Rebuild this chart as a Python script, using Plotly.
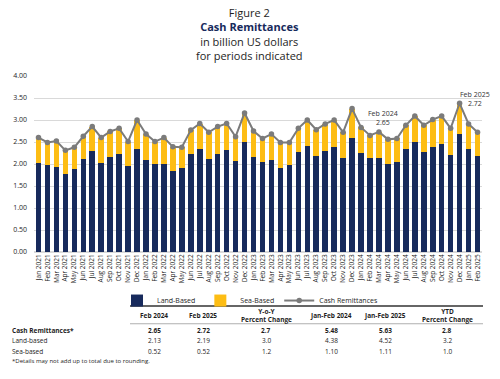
import plotly.graph_objects as go

months = ["Jan 2021","Feb 2021","Mar 2021","Apr 2021","May 2021","Jun 2021","Jul 2021","Aug 2021","Sep 2021","Oct 2021","Nov 2021","Dec 2021",
          "Jan 2022","Feb 2022","Mar 2022","Apr 2022","May 2022","Jun 2022","Jul 2022","Aug 2022","Sep 2022","Oct 2022","Nov 2022","Dec 2022",
          "Jan 2023","Feb 2023","Mar 2023","Apr 2023","May 2023","Jun 2023","Jul 2023","Aug 2023","Sep 2023","Oct 2023","Nov 2023","Dec 2023",
          "Jan 2024","Feb 2024","Mar 2024","Apr 2024","May 2024","Jun 2024","Jul 2024","Aug 2024","Sep 2024","Oct 2024","Nov 2024","Dec 2024",
          "Jan 2025","Feb 2025"]

total = [2.60,2.49,2.52,2.31,2.38,2.63,2.85,2.60,2.74,2.81,2.51,3.00,
         2.68,2.51,2.60,2.39,2.38,2.77,2.92,2.72,2.85,2.92,2.62,3.16,
         2.75,2.58,2.68,2.49,2.49,2.81,3.00,2.78,2.91,3.00,2.72,3.26,
         2.83,2.65,2.73,2.56,2.58,2.88,3.09,2.88,3.01,3.09,2.81,3.38,
         2.91,2.72]

land = [2.03,1.97,1.93,1.77,1.89,2.12,2.29,2.02,2.15,2.23,1.96,2.35,
        2.08,1.99,2.00,1.84,1.91,2.22,2.35,2.11,2.23,2.32,2.07,2.51,
        2.17,2.04,2.09,1.92,1.97,2.27,2.42,2.18,2.30,2.38,2.13,2.60,
        2.25,2.13,2.14,1.99,2.05,2.33,2.51,2.27,2.38,2.46,2.21,2.69,
        2.33,2.19]

sea = [round(t - l, 2) for t, l in zip(total, land)]

table_cols = ["Feb 2024", "Feb 2025", "Y-o-Y<br>Percent Change", "Jan-Feb 2024", "Jan-Feb 2025", "YTD<br>Percent Change"]
table_rows = ["Cash Remittances*", "Land-based", "Sea-based"]
table_vals = [["2.65", "2.72", "2.7", "5.48", "5.63", "2.8"],
              ["2.13", "2.19", "3.0", "4.38", "4.52", "3.2"],
              ["0.52", "0.52", "1.2", "1.10", "1.11", "1.0"]]

NAVY = "#172a5c"
GOLD = "#fdbd14"
LINE = "#7b7b7b"
TXT = "#1e1e1e"
FONT = "Open Sans"

# plot area in pixels
PL, PR, PT, PB = 34, 482, 75.7, 252.3
def px(x):
    return (x - PL) / (PR - PL)
def py(y):
    return (PB - y) / (PB - PT)

fig = go.Figure()
fig.add_trace(go.Bar(x=months, y=land, name="Land-Based", marker_color=NAVY, marker_line_width=0))
fig.add_trace(go.Bar(x=months, y=sea, name="Sea-Based", marker_color=GOLD, marker_line_width=0))
fig.add_trace(go.Scatter(x=months, y=total, name="Cash Remittances", mode="lines+markers",
                         line=dict(color=LINE, width=2),
                         marker=dict(color=LINE, size=5.5, symbol="circle")))

ann = []
# title block (single multi-line annotation)
title_txt = ("Figure 2<br>"
             "<span style='color:" + NAVY + "'><b>Cash Remittances</b></span><br>"
             "in billion US dollars<br>for periods indicated")
ann.append(dict(x=px(249), y=py(34), text=title_txt, font=dict(size=11, color=TXT, family=FONT)))

# point labels
ann.append(dict(x=px(383), y=py(117.5), text="Feb 2024<br>2.65", font=dict(size=7, color="#333333", family=FONT)))
ann.append(dict(x=px(475), y=py(99), text="Feb 2025<br>2.72", font=dict(size=7, color="#333333", family=FONT)))

# table header
col_x = [154, 203, 266, 331, 385, 447]
for cx, c in zip(col_x, table_cols):
    ann.append(dict(x=px(cx), y=py(316.3), text="<b>" + c + "</b>", font=dict(size=6.5, color=TXT, family=FONT)))
row_y = [330.7, 341.5, 351.7]
for ry, rname, vals in zip(row_y, table_rows, table_vals):
    bold = rname.startswith("Cash")
    t = "<b>" + rname + "</b>" if bold else rname
    ann.append(dict(x=px(10), y=py(ry), text=t, xanchor="left", font=dict(size=6.5, color=TXT, family=FONT)))
    for cx, v in zip(col_x, vals):
        vt = "<b>" + v + "</b>" if bold else v
        ann.append(dict(x=px(cx), y=py(ry), text=vt, font=dict(size=6.5, color=TXT, family=FONT)))
ann.append(dict(x=px(10), y=py(362), text="*Details may not add up to total due to rounding.", xanchor="left",
                font=dict(size=6, color=TXT, family=FONT)))

for a in ann:
    a.setdefault("xref", "paper")
    a.setdefault("yref", "paper")
    a.setdefault("showarrow", False)
    a.setdefault("xanchor", "center")
    a.setdefault("yanchor", "middle")

shapes = [
    dict(type="line", xref="paper", yref="paper", x0=px(130), x1=px(483), y0=py(306.5), y1=py(306.5),
         line=dict(color="#666666", width=1.8)),
    dict(type="line", xref="paper", yref="paper", x0=px(130), x1=px(483), y0=py(324.3), y1=py(324.3),
         line=dict(color="#9a9a9a", width=0.8)),
]

fig.update_layout(
    width=500, height=379,
    margin=dict(l=PL, r=500 - PR, t=PT, b=379 - PB, pad=0, autoexpand=False),
    barmode="stack", bargap=0.38,
    paper_bgcolor="white", plot_bgcolor="white",
    font=dict(family=FONT, size=7, color=TXT),
    showlegend=True,
    legend=dict(orientation="h", x=px(250), xanchor="center", y=py(301), yanchor="middle",
                font=dict(size=7, color=TXT, family=FONT), traceorder="normal",
                itemwidth=30, tracegroupgap=0, bgcolor="rgba(0,0,0,0)"),
    annotations=ann,
    shapes=shapes,
    xaxis=dict(type="category", tickangle=-90, tickfont=dict(size=6.5, color=TXT),
               showgrid=False, showline=False, ticks="", range=[-0.5, 49.5], automargin=False),
    yaxis=dict(range=[0, 4.0], dtick=0.5, tickformat=".2f", tickfont=dict(size=7, color=TXT),
               showgrid=True, gridcolor="#d9d9d9", gridwidth=1, zeroline=True, zerolinecolor="#d9d9d9",
               showline=False, ticks="", ticklabelstandoff=6, automargin=False),
)

fig.write_html("out.html", config={"displayModeBar": False},
               post_script="document.body.style.margin='0';document.body.style.padding='0';")
